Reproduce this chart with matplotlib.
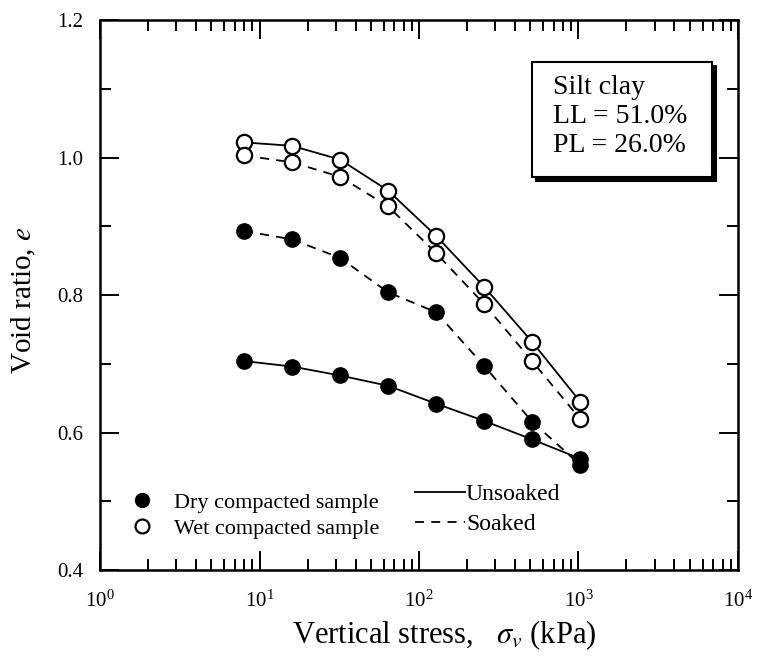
import numpy as np
import matplotlib
matplotlib.use("Agg")
import matplotlib.pyplot as plt
from matplotlib.lines import Line2D
from matplotlib.patches import Rectangle
import matplotlib.transforms as mtransforms

plt.rcParams["font.family"] = ["Liberation Serif", "DejaVu Serif"]
plt.rcParams["mathtext.fontset"] = "stix"

# vertical stress steps (kPa)
stress = [8, 16, 32, 64, 128, 256, 512, 1024]

# void ratios
wet_unsoaked = [1.022, 1.017, 0.997, 0.952, 0.886, 0.812, 0.732, 0.645]
wet_soaked = [1.003, 0.993, 0.972, 0.929, 0.861, 0.787, 0.704, 0.620]
dry_unsoaked = [0.704, 0.696, 0.683, 0.668, 0.642, 0.617, 0.590, 0.562]
dry_soaked = [0.893, 0.881, 0.854, 0.804, 0.775, 0.697, 0.616, 0.553]

fig = plt.figure(figsize=(7.6, 6.56), dpi=100)
ax = fig.add_axes([0.1316, 0.131, 0.8394, 0.8385])

dash = (0, (5, 4))
ms = 11

ax.plot(stress, wet_unsoaked, "-", color="black", lw=1.3,
        marker="o", ms=ms, mfc="white", mec="black", mew=1.6)
ax.plot(stress, wet_soaked, linestyle=dash, color="black", lw=1.3,
        marker="o", ms=ms, mfc="white", mec="black", mew=1.6)
ax.plot(stress, dry_unsoaked, "-", color="black", lw=1.3,
        marker="o", ms=ms, mfc="black", mec="black")
ax.plot(stress, dry_soaked, linestyle=dash, color="black", lw=1.3,
        marker="o", ms=ms, mfc="black", mec="black")

ax.set_xscale("log")
ax.set_xlim(1, 1e4)
ax.set_ylim(0.4, 1.2)
ax.set_yticks([0.4, 0.6, 0.8, 1.0, 1.2])
ax.set_yticks(np.arange(0.5, 1.2, 0.2), minor=True)
ax.set_yticklabels(["0.4", "0.6", "0.8", "1.0", "1.2"])

ax.tick_params(which="both", direction="in", top=True, right=True, labelsize=15, width=1.4)
ax.tick_params(which="major", length=14)
ax.tick_params(which="minor", length=8)
ax.tick_params(axis="x", which="major", pad=15)
ax.tick_params(axis="y", which="major", pad=12)
for s in ax.spines.values():
    s.set_linewidth(1.8)

ax.set_xlabel(r"Vertical stress,   $\sigma_v$ (kPa)", fontsize=22)
ax.xaxis.set_label_coords(0.54, -0.088)
ax.set_ylabel(r"Void ratio, $e$", fontsize=21)
ax.yaxis.set_label_coords(-0.097, 0.49)

# soil properties box with drop shadow
shadow = mtransforms.offset_copy(ax.transAxes, fig=fig, x=4, y=-4, units="dots")
ax.add_patch(Rectangle((0.677, 0.715), 0.282, 0.209, transform=shadow,
                       fc="black", ec="black", lw=1.5, zorder=4))
ax.add_patch(Rectangle((0.677, 0.715), 0.282, 0.209, transform=ax.transAxes,
                       fc="white", ec="black", lw=1.5, zorder=5))
ax.text(0.71, 0.9, "Silt clay\nLL = 51.0%\nPL = 26.0%", transform=ax.transAxes,
        fontsize=20, va="top", ha="left", linespacing=1.2, zorder=6)

# legends
marker_handles = [
    Line2D([], [], ls="none", marker="o", ms=10, mfc="black", mec="black"),
    Line2D([], [], ls="none", marker="o", ms=10, mfc="white", mec="black", mew=1.6),
]
leg1 = ax.legend(marker_handles, ["Dry compacted sample", "Wet compacted sample"],
                 loc="upper left", bbox_to_anchor=(0.045, 0.141), frameon=False,
                 fontsize=16, handlelength=1.2, handletextpad=0.85, labelspacing=0.22,
                 borderaxespad=0, borderpad=0)
ax.add_artist(leg1)
line_handles = [
    Line2D([], [], ls="-", color="black", lw=1.3),
    Line2D([], [], ls=dash, color="black", lw=1.3),
]
ax.legend(line_handles, ["Unsoaked", "Soaked"], loc="upper left",
          bbox_to_anchor=(0.494, 0.157), frameon=False, fontsize=17,
          handlelength=2.1, handletextpad=0.05, labelspacing=0.35,
          borderaxespad=0, borderpad=0)

fig.savefig("out.png", dpi=100)
